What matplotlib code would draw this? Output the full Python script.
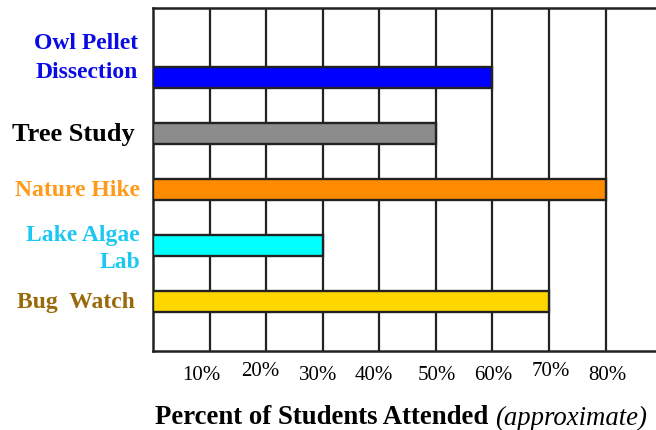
import matplotlib
matplotlib.use("Agg")
import matplotlib.pyplot as plt

categories = ["Owl Pellet\nDissection", "Tree Study", "Nature Hike", "Lake Algae\nLab", "Bug  Watch"]
values = [60, 50, 80, 30, 70]
bar_colors = ["#0000FF", "#8C8C8C", "#FF8C00", "#00FFFF", "#FFD700"]
label_colors = ["#0A0AE6", "#000000", "#FF9A1A", "#1CC8F2", "#9A6A0A"]
tick_values = [10, 20, 30, 40, 50, 60, 70, 80]
tick_labels = ["10%", "20%", "30%", "40%", "50%", "60%", "70%", "80%"]

serif = ["Liberation Serif", "DejaVu Serif"]

fig = plt.figure(figsize=(6.56, 4.31), dpi=100)
W, H = 656, 431
left, right, top, bottom = 153, 656, 9, 352
ax = fig.add_axes([left / W, 1 - bottom / H, (right - left) / W, (bottom - top) / H])

n = len(categories)
ypos = [n - 1 - i for i in range(n)]
ax.barh(ypos, values, height=0.375, color=bar_colors, edgecolor="#222222", linewidth=1.7, zorder=3)

ax.set_xlim(0, 88.9)
ax.set_ylim(-0.88, n - 1 + 1.24)
for t in tick_values:
    ax.axvline(t, color="#222222", linewidth=1.6, zorder=1)

for s in ["left", "top", "bottom"]:
    ax.spines[s].set_linewidth(1.8)
    ax.spines[s].set_color("#222222")
ax.spines["right"].set_visible(False)
ax.set_xticks([])
ax.set_yticks([])

# category labels (right edge in pixels, vertical offset in bar units)
label_right = [138, 135, 140, 140, 135]
label_offsets = [0.366, 0, 0, -0.045, 0]
label_sizes = [17, 19, 17, 17, 17]
label_spacing = [1.45, 1.2, 1.2, 1.35, 1.2]
for yp, lab, col, off, fs, rx, ls in zip(ypos, categories, label_colors, label_offsets,
                                          label_sizes, label_right, label_spacing):
    ax.text((rx - left) / (right - left), yp + off, lab, ha="right", va="center", color=col,
            fontsize=fs, fontweight="bold", family=serif, linespacing=ls,
            transform=ax.get_yaxis_transform(), clip_on=False)

# tick labels
tick_dx = [-1.5, -1.0, -0.9, -0.9, 0.2, 0.1, 0.3, 0.3]
tick_dy = [0, 5, 0, 0, 0, 0, 5, 0]
for t, lab, dx, dy in zip(tick_values, tick_labels, tick_dx, tick_dy):
    ax.text(t + dx, 1 - (376 - dy - top) / (bottom - top), lab, ha="center", va="center",
            fontsize=15, family=serif, transform=ax.get_xaxis_transform(), clip_on=False)

# x-axis title: bold part + italic part
fig.canvas.draw()
r = fig.canvas.get_renderer()
t1 = fig.text(155 / W, 1 - 418 / H, "Percent of Students Attended ", ha="left", va="center",
              fontsize=19.3, fontweight="bold", family=serif)
bb = t1.get_window_extent(renderer=r)
fig.text(bb.x1 / W, 1 - 418 / H, "(approximate)", ha="left", va="center",
         fontsize=19.3, fontstyle="italic", family=serif)

fig.savefig("out.png", dpi=100)
